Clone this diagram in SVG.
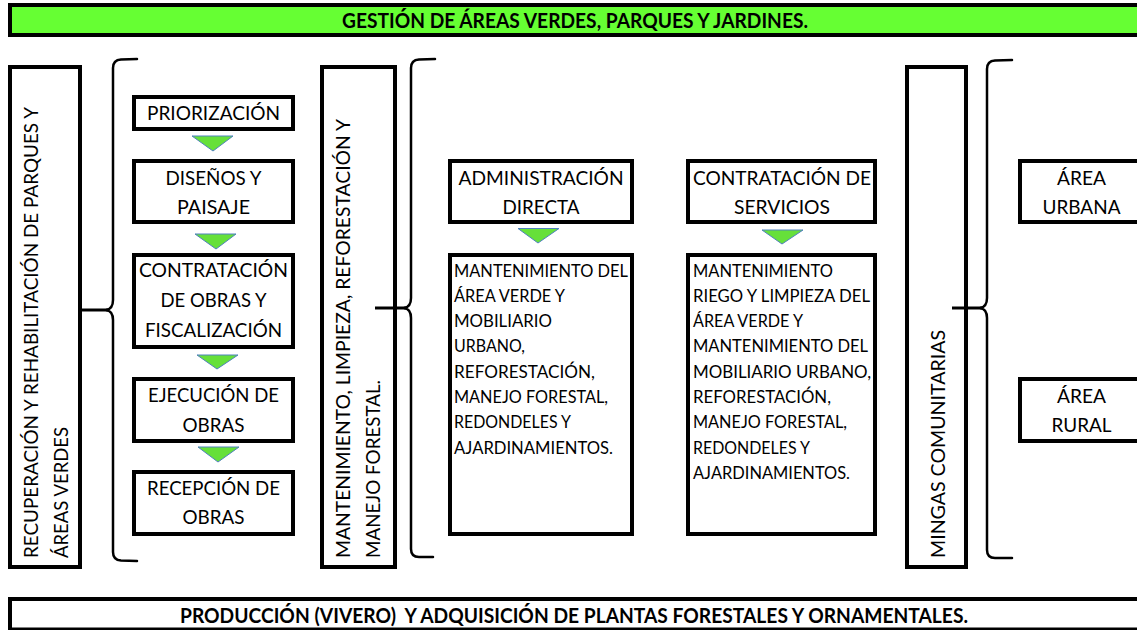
<svg xmlns="http://www.w3.org/2000/svg" width="1137" height="630" viewBox="0 0 1137 630">
<style>
.box{fill:#fff;stroke:#000;stroke-width:4}
.bar{fill:#66ff33;stroke:#000;stroke-width:4}
text{font-family:Lato,"Open Sans","Liberation Sans",sans-serif;fill:#000}
.t{font-size:20px}
.m{text-anchor:middle}
.c{font-size:17.3px}
.b{font-weight:bold;font-size:20px}
.pre{white-space:pre}
.arr{fill:#66e03a;stroke:#4f81bd;stroke-width:1}
.brace{fill:none;stroke:#000;stroke-width:2.5;stroke-linecap:round}
.link{stroke:#000;stroke-width:3}
</style>
<rect width="1137" height="630" fill="#fff"/>

<g id="title">
<rect class="bar" x="10" y="5" width="1140" height="30"/>
<text class="b" x="342" y="28" textLength="466" lengthAdjust="spacingAndGlyphs">GESTIÓN DE ÁREAS VERDES, PARQUES Y JARDINES.</text>
</g>

<g id="recuperacion">
<rect class="box" x="10" y="67" width="70" height="500"/>
<text class="t" transform="translate(37.5,558) rotate(-90)" textLength="451" lengthAdjust="spacingAndGlyphs">RECUPERACIÓN Y REHABILITACIÓN DE PARQUES Y</text>
<text class="t" transform="translate(67.5,558) rotate(-90)" textLength="131" lengthAdjust="spacingAndGlyphs">ÁREAS VERDES</text>
</g>

<g id="priorizacion">
<rect class="box" x="134" y="97" width="159" height="32"/>
<text class="t m" x="213.5" y="120" textLength="133" lengthAdjust="spacingAndGlyphs">PRIORIZACIÓN</text>
</g>
<g id="disenos">
<rect class="box" x="134" y="161" width="159" height="61"/>
<text class="t m" x="213.5" y="185" textLength="96" lengthAdjust="spacingAndGlyphs">DISEÑOS Y</text>
<text class="t m" x="213.5" y="213.5" textLength="73" lengthAdjust="spacingAndGlyphs">PAISAJE</text>
</g>
<g id="contratacion-obras">
<rect class="box" x="134" y="255" width="159" height="92"/>
<text class="t m" x="213.5" y="277" textLength="149" lengthAdjust="spacingAndGlyphs">CONTRATACIÓN</text>
<text class="t m" x="213.5" y="307" textLength="106" lengthAdjust="spacingAndGlyphs">DE OBRAS Y</text>
<text class="t m" x="213.5" y="337" textLength="137" lengthAdjust="spacingAndGlyphs">FISCALIZACIÓN</text>
</g>
<g id="ejecucion">
<rect class="box" x="134" y="379" width="159" height="62"/>
<text class="t m" x="213.5" y="402" textLength="131" lengthAdjust="spacingAndGlyphs">EJECUCIÓN DE</text>
<text class="t m" x="213.5" y="432" textLength="62" lengthAdjust="spacingAndGlyphs">OBRAS</text>
</g>
<g id="recepcion">
<rect class="box" x="134" y="472" width="159" height="62"/>
<text class="t m" x="213.5" y="495" textLength="133" lengthAdjust="spacingAndGlyphs">RECEPCIÓN DE</text>
<text class="t m" x="213.5" y="524" textLength="62" lengthAdjust="spacingAndGlyphs">OBRAS</text>
</g>

<g id="mantenimiento">
<rect class="box" x="322" y="67" width="73" height="500"/>
<text class="t" transform="translate(350,558) rotate(-90)" textLength="439" lengthAdjust="spacingAndGlyphs">MANTENIMIENTO, LIMPIEZA, REFORESTACIÓN Y</text>
<text class="t" transform="translate(380,558) rotate(-90)" textLength="178" lengthAdjust="spacingAndGlyphs">MANEJO FORESTAL.</text>
</g>

<g id="administracion">
<rect class="box" x="450" y="161" width="182" height="61"/>
<text class="t m" x="541" y="185" textLength="165" lengthAdjust="spacingAndGlyphs">ADMINISTRACIÓN</text>
<text class="t m" x="541" y="214" textLength="77" lengthAdjust="spacingAndGlyphs">DIRECTA</text>
</g>
<g id="administracion-detalle">
<rect class="box" x="450" y="255" width="182" height="279"/>
<text class="c" x="454" y="276.5" textLength="174" lengthAdjust="spacingAndGlyphs">MANTENIMIENTO DEL</text>
<text class="c" x="454" y="301.8" textLength="111" lengthAdjust="spacingAndGlyphs">ÁREA VERDE Y</text>
<text class="c" x="454" y="327.1" textLength="98" lengthAdjust="spacingAndGlyphs">MOBILIARIO</text>
<text class="c" x="454" y="352.4" textLength="71" lengthAdjust="spacingAndGlyphs">URBANO,</text>
<text class="c" x="454" y="377.7" textLength="141" lengthAdjust="spacingAndGlyphs">REFORESTACIÓN,</text>
<text class="c" x="454" y="403" textLength="154" lengthAdjust="spacingAndGlyphs">MANEJO FORESTAL,</text>
<text class="c" x="454" y="428.3" textLength="117" lengthAdjust="spacingAndGlyphs">REDONDELES Y</text>
<text class="c" x="454" y="453.6" textLength="159" lengthAdjust="spacingAndGlyphs">AJARDINAMIENTOS.</text>
</g>

<g id="contratacion-servicios">
<rect class="box" x="688" y="161" width="187" height="61"/>
<text class="t m" x="782" y="185" textLength="178" lengthAdjust="spacingAndGlyphs">CONTRATACIÓN DE</text>
<text class="t m" x="782" y="214" textLength="96" lengthAdjust="spacingAndGlyphs">SERVICIOS</text>
</g>
<g id="servicios-detalle">
<rect class="box" x="688" y="255" width="187" height="279"/>
<text class="c" x="693" y="276.5" textLength="140" lengthAdjust="spacingAndGlyphs">MANTENIMIENTO</text>
<text class="c" x="693" y="301.8" textLength="177" lengthAdjust="spacingAndGlyphs">RIEGO Y LIMPIEZA DEL</text>
<text class="c" x="693" y="327.1" textLength="110" lengthAdjust="spacingAndGlyphs">ÁREA VERDE Y</text>
<text class="c" x="693" y="352.4" textLength="175" lengthAdjust="spacingAndGlyphs">MANTENIMIENTO DEL</text>
<text class="c" x="693" y="377.7" textLength="178" lengthAdjust="spacingAndGlyphs">MOBILIARIO URBANO,</text>
<text class="c" x="693" y="403" textLength="138" lengthAdjust="spacingAndGlyphs">REFORESTACIÓN,</text>
<text class="c" x="693" y="428.3" textLength="154" lengthAdjust="spacingAndGlyphs">MANEJO FORESTAL,</text>
<text class="c" x="693" y="453.6" textLength="117" lengthAdjust="spacingAndGlyphs">REDONDELES Y</text>
<text class="c" x="693" y="478.9" textLength="157" lengthAdjust="spacingAndGlyphs">AJARDINAMIENTOS.</text>
</g>

<g id="mingas">
<rect class="box" x="907" y="67" width="59" height="500"/>
<text class="t" transform="translate(945,558) rotate(-90)" textLength="228" lengthAdjust="spacingAndGlyphs">MINGAS COMUNITARIAS</text>
</g>

<g id="area-urbana">
<rect class="box" x="1020" y="161" width="200" height="61"/>
<text class="t m" x="1081.5" y="185" textLength="49" lengthAdjust="spacingAndGlyphs">ÁREA</text>
<text class="t m" x="1081.5" y="214" textLength="78" lengthAdjust="spacingAndGlyphs">URBANA</text>
</g>
<g id="area-rural">
<rect class="box" x="1020" y="379" width="200" height="62"/>
<text class="t m" x="1081.5" y="403" textLength="49" lengthAdjust="spacingAndGlyphs">ÁREA</text>
<text class="t m" x="1081.5" y="432" textLength="60" lengthAdjust="spacingAndGlyphs">RURAL</text>
</g>

<g id="produccion">
<rect class="box" x="10" y="599" width="1140" height="30.5"/>
<text class="b pre" x="180" y="623" textLength="788" lengthAdjust="spacingAndGlyphs" xml:space="preserve">PRODUCCIÓN (VIVERO)  Y ADQUISICIÓN DE PLANTAS FORESTALES Y ORNAMENTALES.</text>
</g>

<g id="connectors">
<line class="link" x1="78" y1="310" x2="108" y2="310"/>
<path class="brace" d="M137,59 L121,59.5 Q113,60 113,68 L113,300 Q113,309 106,310 Q113,311 113,320 L113,552 Q113,560 121,560.5 L137,561"/>
<line class="link" x1="375" y1="308" x2="406" y2="308"/>
<path class="brace" d="M435,59 L419,59.5 Q411,60 411,68 L411,298 Q411,307 404,308 Q411,309 411,318 L411,549 Q411,557 419,557 L433,557"/>
<line class="link" x1="952" y1="308" x2="982" y2="308"/>
<path class="brace" d="M1012,60 L995,60.5 Q987,61 987,69 L987,298 Q987,307 980,308 Q987,309 987,318 L987,550 Q987,558 995,558 L1012,558"/>
<polygon class="arr" points="192,136 233,136 213,151"/>
<polygon class="arr" points="195,234 236,234 216,249"/>
<polygon class="arr" points="197,355 238,355 217,369"/>
<polygon class="arr" points="198,447 239,447 218,462"/>
<polygon class="arr" points="518,228.5 559,228.5 538,243"/>
<polygon class="arr" points="762,230 803,230 782,244"/>
</g>
</svg>
